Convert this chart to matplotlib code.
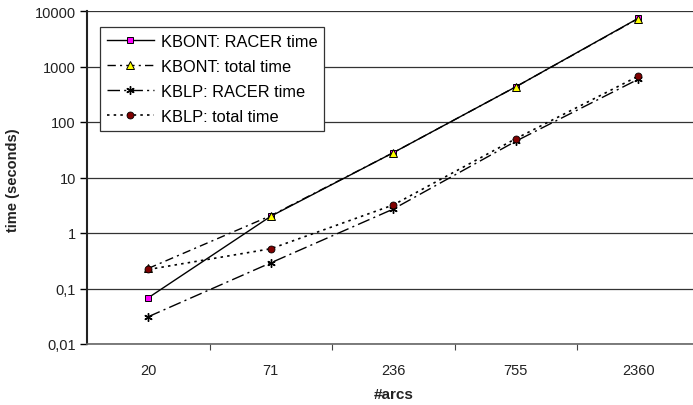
import matplotlib
matplotlib.use("Agg")
import matplotlib.pyplot as plt
from matplotlib.ticker import FixedLocator, FixedFormatter, NullLocator

# données
arcs = ["20", "71", "236", "755", "2360"]
kbont_racer = [0.068, 2.0, 28, 430, 7400]
kbont_total = [0.23, 2.05, 28, 430, 7300]
kblp_racer = [0.031, 0.29, 2.7, 45, 590]
kblp_total = [0.22, 0.52, 3.2, 50, 670]

y_ticks = [0.01, 0.1, 1, 10, 100, 1000, 10000]
y_labels = ["0,01", "0,1", "1", "10", "100", "1000", "10000"]

plt.rcParams["font.family"] = ["Liberation Sans", "DejaVu Sans"]

fig = plt.figure(figsize=(6.93, 4.06), dpi=100)
ax = fig.add_axes([87 / 693, 61 / 406, 612.5 / 693, 333 / 406])

x = list(range(len(arcs)))

ax.plot(x, kbont_racer, color="black", lw=1, linestyle="-",
        marker="s", markersize=4.5, markerfacecolor="#ff00ff",
        markeredgecolor="black", markeredgewidth=0.7,
        label="KBONT: RACER time", zorder=3)
ax.plot(x, kbont_total, color="black", lw=1, linestyle=(0, (6, 3, 1.5, 3)),
        marker="^", markersize=5.5, markerfacecolor="#ffff00",
        markeredgecolor="black", markeredgewidth=0.7,
        label="KBONT: total time", zorder=3)
ax.plot(x, kblp_racer, color="black", lw=1, linestyle=(0, (9, 3, 1.5, 3)),
        marker=(6, 2, 0), markersize=6, markeredgecolor="black",
        markeredgewidth=1, label="KBLP: RACER time", zorder=3)
ax.plot(x, kblp_total, color="black", lw=1.2, linestyle=(0, (1.5, 2.5)),
        marker="o", markersize=5, markerfacecolor="#800000",
        markeredgecolor="black", markeredgewidth=0.6,
        label="KBLP: total time", zorder=3)

ax.set_yscale("log")
ax.set_ylim(0.01, 10000)
ax.set_xlim(-0.5, 4.5)

ax.yaxis.set_major_locator(FixedLocator(y_ticks))
ax.yaxis.set_major_formatter(FixedFormatter(y_labels))
ax.yaxis.set_minor_locator(NullLocator())

# étiquettes au centre des catégories, graduations entre elles
ax.set_xticks([0.5, 1.5, 2.5, 3.5])
ax.set_xticklabels([])
ax.set_xticks(x, minor=True)
ax.set_xticklabels(arcs, minor=True)
ax.tick_params(axis="x", which="major", direction="out", length=4,
               width=0.8, color="#444444")
ax.tick_params(axis="x", which="minor", length=0, pad=14, labelsize=10.5,
               labelcolor="#222222")
ax.tick_params(axis="y", direction="out", length=5, width=1,
               labelsize=10.5, labelcolor="#222222", pad=3)

ax.grid(True, axis="y", which="major", color="#333333", linewidth=0.9)
ax.set_axisbelow(True)

for side in ["top", "right"]:
    ax.spines[side].set_visible(False)
ax.spines["left"].set_linewidth(1.5)
ax.spines["left"].set_color("#222222")
ax.spines["bottom"].set_linewidth(1.2)
ax.spines["bottom"].set_color("#666666")

fig.text(394 / 693, 1 - 395 / 406, "#arcs", ha="center", va="center",
         fontsize=11, fontweight="bold", color="#222222")
fig.text(13 / 693, 1 - 180 / 406, "time (seconds)", ha="center",
         va="center", rotation=90, fontsize=10.5, fontweight="bold",
         color="#222222")

leg = ax.legend(loc="upper left", bbox_to_anchor=(100 / 693, 1 - 28 / 406),
                bbox_transform=fig.transFigure, borderaxespad=0,
                fontsize=11.8, handlelength=2.9, handletextpad=0.4,
                labelspacing=0.62, borderpad=0.4, fancybox=False,
                framealpha=1, edgecolor="#333333")
leg.get_frame().set_linewidth(0.9)

fig.savefig("out.png", dpi=100)
